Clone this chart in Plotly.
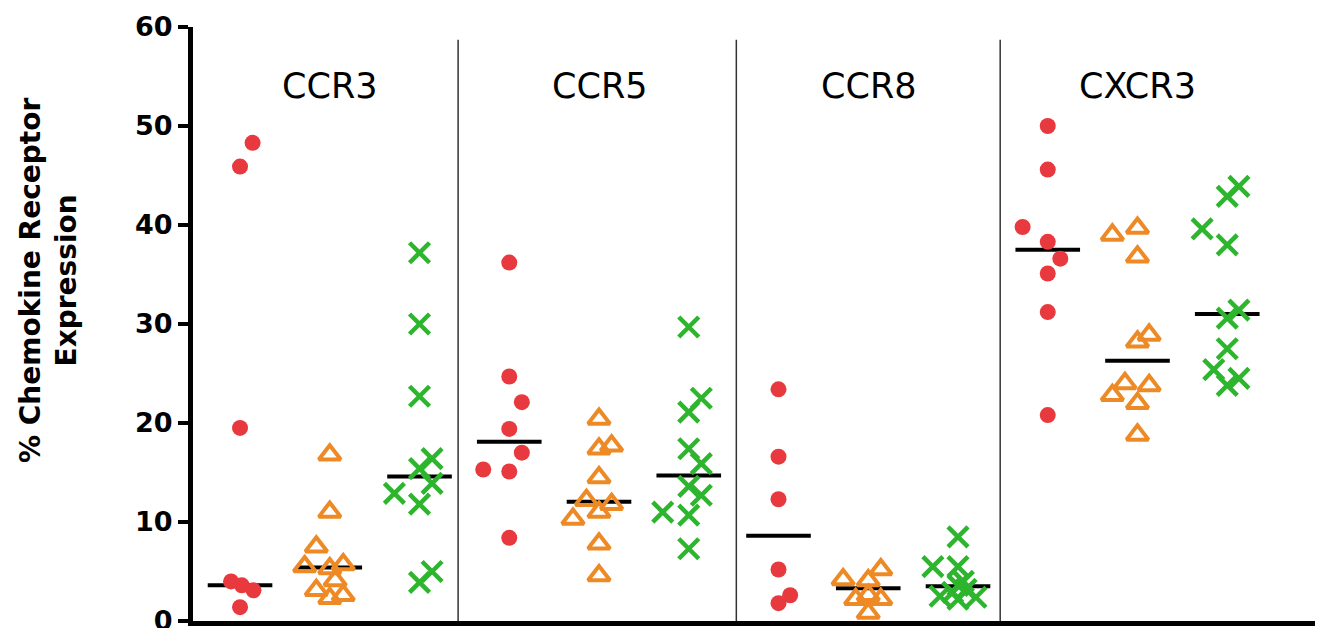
import plotly.graph_objects as go

# ---------------- data ----------------
receptors = ["CCR3", "CCR5", "CCR8", "CXCR3"]

# red filled circles
ccr3_circle = [48.3, 45.9, 19.5, 4.0, 3.6, 3.1, 1.4]
ccr5_circle = [36.2, 24.7, 22.1, 19.4, 17.0, 15.3, 15.1, 8.4]
ccr8_circle = [23.4, 16.6, 12.3, 5.2, 2.6, 1.8]
cxcr3_circle = [50.0, 45.6, 39.8, 38.3, 36.6, 35.1, 31.2, 20.8]

# orange open triangles
ccr3_triangle = [16.8, 11.0, 7.5, 5.5, 5.3, 5.7, 4.1, 3.1, 2.3, 2.6]
ccr5_triangle = [20.4, 17.4, 17.7, 14.5, 12.2, 11.8, 11.0, 10.3, 7.8, 4.6]
ccr8_triangle = [4.2, 4.1, 5.2, 2.2, 2.6, 2.2, 0.8]
cxcr3_triangle = [39.0, 39.7, 36.8, 28.9, 28.2, 24.0, 23.8, 22.8, 22.0, 18.8]

# green crosses
ccr3_cross = [37.2, 30.0, 22.7, 16.4, 15.4, 13.9, 12.9, 11.8, 5.0, 3.9]
ccr5_cross = [29.7, 22.5, 21.1, 17.4, 15.9, 13.6, 12.7, 11.0, 10.7, 7.3]
ccr8_cross = [8.5, 5.5, 5.5, 4.0, 3.6, 3.2, 2.9, 2.5, 2.2, 2.4]
cxcr3_cross = [43.9, 42.9, 39.6, 38.0, 31.4, 30.6, 27.5, 25.4, 24.5, 23.8]

# horizontal scatter of the points (category units)
ccr3_circle_dx = [0.14, 0, 0, -0.10, 0.02, 0.15, 0]
ccr5_circle_dx = [0, 0, 0.14, 0, 0.14, -0.29, 0, 0]
ccr8_circle_dx = [0, 0, 0, 0, 0.13, 0]
cxcr3_circle_dx = [0, 0, -0.28, 0, 0.14, 0, 0, 0]

ccr3_triangle_dx = [0, 0, -0.15, -0.28, 0, 0.15, 0.06, -0.15, 0, 0.15]
ccr5_triangle_dx = [0, 0, 0.14, 0, -0.14, 0.14, 0, -0.29, 0, 0]
ccr8_triangle_dx = [-0.28, 0, 0.14, -0.14, 0, 0.14, 0]
cxcr3_triangle_dx = [-0.28, 0, 0, 0.13, 0, -0.14, 0.13, -0.28, 0, 0]

ccr3_cross_dx = [0, 0, 0, 0.14, 0, 0.14, -0.28, 0, 0.14, 0]
ccr5_cross_dx = [0, 0.14, 0, 0, 0.14, 0, 0.14, -0.29, 0, 0]
ccr8_cross_dx = [0, -0.28, 0, 0.06, 0, 0.09, -0.06, -0.2, 0, 0.2]
cxcr3_cross_dx = [0.13, 0, -0.28, 0, 0.13, 0, 0, -0.15, 0.13, 0]

# median bars
circle_median = [3.6, 18.1, 8.6, 37.5]
triangle_median = [5.4, 12.05, 3.3, 26.3]
cross_median = [14.6, 14.7, 3.5, 31.0]

y_ticks = [0, 10, 20, 30, 40, 50, 60]

# ---------------- styling ----------------
RED = "#E8393F"
ORANGE = "#EE8A25"
GREEN = "#2DB52D"

circle_vals = [ccr3_circle, ccr5_circle, ccr8_circle, cxcr3_circle]
triangle_vals = [ccr3_triangle, ccr5_triangle, ccr8_triangle, cxcr3_triangle]
cross_vals = [ccr3_cross, ccr5_cross, ccr8_cross, cxcr3_cross]
circle_dx = [ccr3_circle_dx, ccr5_circle_dx, ccr8_circle_dx, cxcr3_circle_dx]
triangle_dx = [ccr3_triangle_dx, ccr5_triangle_dx, ccr8_triangle_dx, cxcr3_triangle_dx]
cross_dx = [ccr3_cross_dx, ccr5_cross_dx, ccr8_cross_dx, cxcr3_cross_dx]

series = [
    (circle_vals, circle_dx, circle_median,
     dict(symbol="circle", size=16, color=RED, line=dict(width=0))),
    (triangle_vals, triangle_dx, triangle_median,
     dict(symbol="triangle-up-open", size=19, color=ORANGE, line=dict(width=4, color=ORANGE))),
    (cross_vals, cross_dx, cross_median,
     dict(symbol="x-thin-open", size=20, color=GREEN, line=dict(width=4.5, color=GREEN))),
]

fig = go.Figure()

HALF = 0.36
# median lines first (markers on top)
for s, (vals, dxs, meds, mk) in enumerate(series):
    for g in range(len(receptors)):
        c = 3 * g + s + 1
        fig.add_trace(go.Scatter(
            x=[c - HALF, c + HALF], y=[meds[g], meds[g]], mode="lines",
            line=dict(color="black", width=4), hoverinfo="skip", showlegend=False))

for s, (vals, dxs, meds, mk) in enumerate(series):
    for g, rec in enumerate(receptors):
        c = 3 * g + s + 1
        fig.add_trace(go.Scatter(
            x=[c + d for d in dxs[g]], y=vals[g], mode="markers",
            marker=mk, name=rec, showlegend=False, cliponaxis=False))

# panel separators
dividers = [3.43, 6.53, 9.47, 13.03]
for d in dividers:
    fig.add_shape(type="line", xref="x", yref="y", x0=d, x1=d, y0=0, y1=58.7,
                  line=dict(color="#333333", width=1.5), layer="below")

# panel titles
for g, rec in enumerate(receptors):
    fig.add_annotation(x=3 * g + 2, y=54.0, xref="x", yref="y", text=rec,
                       showarrow=False, font=dict(family="DejaVu Sans", size=35, color="black"),
                       xanchor="center", yanchor="middle")

# y-axis title
fig.add_annotation(x=-0.128, y=0.573, xref="paper", yref="paper",
                   text="% Chemokine Receptor<br>Expression", textangle=-90,
                   showarrow=False, xanchor="center", yanchor="middle",
                   font=dict(family="DejaVu Sans", size=28, color="black", weight="bold"))

fig.update_layout(
    width=1315, height=620,
    margin=dict(l=185, r=0, t=19, b=7, autoexpand=False),
    paper_bgcolor="white", plot_bgcolor="white",
    showlegend=False,
    xaxis=dict(range=[0.476, 13.067], showgrid=False, zeroline=False, automargin=False,
               showticklabels=False, ticks="", showline=True,
               linecolor="black", linewidth=5),
    yaxis=dict(range=[0, 60], tickvals=y_ticks, ticktext=[str(v) for v in y_ticks],
               automargin=False, ticklabeloverflow="allow",
               showgrid=False, zeroline=False, showline=True, linecolor="black",
               linewidth=5, ticks="outside", ticklen=10, tickwidth=4, tickcolor="black",
               tickfont=dict(family="DejaVu Sans", size=27, color="black", weight="bold")),
)

fig.write_html("out.html")
